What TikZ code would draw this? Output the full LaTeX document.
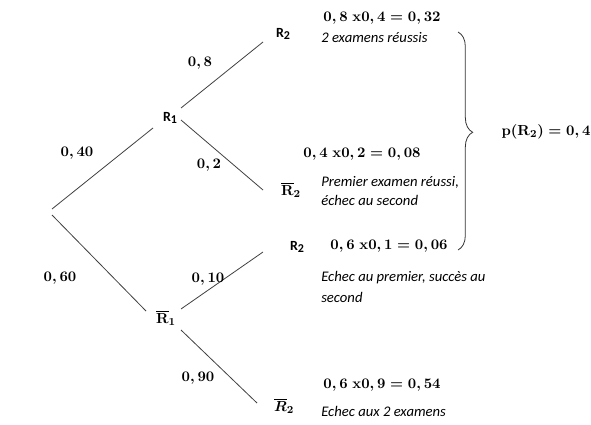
\documentclass[tikz,border=0pt]{standalone}
\usepackage{fontspec}
\usepackage{amsmath}
\newfontfamily\calib{Carlito}
\usetikzlibrary{decorations.pathreplacing}
\newcommand{\sR}[1]{R\raisebox{-0.3ex}{\fontsize{9}{9}\selectfont #1}}
\begin{document}
\begin{tikzpicture}[x=0.75pt,y=-0.75pt,
  edge/.style={draw=black!75, line width=0.6pt},
  sanslab/.style={font=\calib\bfseries\fontsize{10.5}{11}\selectfont, inner sep=0pt},
  mlab/.style={font=\fontsize{11}{13}\selectfont\boldmath, inner sep=0pt},
  itxt/.style={font=\calib\itshape\fontsize{11}{14}\selectfont, inner sep=0pt, anchor=west, align=left},
]
\useasboundingbox (0,0) rectangle (591,424);

% tree nodes
\coordinate (root) at (52,212);
\node[sanslab] (R1)  at (170,118) {\sR{1}};
\node[mlab]    (R1b) at (166,318) {$\overline{\mathbf{R}}_{\mathbf{1}}$};
\node[sanslab] (R2a) at (283,34)  {\sR{2}};
\node[mlab]    (R2b) at (291,190) {$\overline{\mathbf{R}}_{\mathbf{2}}$};
\node[sanslab] (R2c) at (297,247) {\sR{2}};
\node[mlab]    (R2d) at (284,406) {$\overline{R}_{2}$};

% branches
\draw[edge] ([shift={(0,-3)}]root) -- ([shift={(-17,10)}]R1.center);
\draw[edge] ([shift={(0,3)}]root) -- ([shift={(-20,-7)}]R1b.center);
\draw[edge] ([shift={(11,-10)}]R1.center) -- ([shift={(-20,8)}]R2a.center);
\draw[edge] ([shift={(11,2)}]R1.center) -- ([shift={(-28,0)}]R2b.center);
\draw[edge] ([shift={(15,-9)}]R1b.center) -- ([shift={(-34,5)}]R2c.center);
\draw[edge] ([shift={(15,12)}]R1b.center) -- ([shift={(-27,-3)}]R2d.center);

% probabilities
\node[mlab] (p40) at (77,153) {$0,40$};
\node[mlab] (p60) at (60,278) {$0,60$};
\node[mlab] (p8)  at (200,63) {$0,8$};
\node[mlab] (p2)  at (209,165) {$0,2$};
\node[mlab] (p10) at (208,279) {$0,10$};
\node[mlab] (p90) at (198,378) {$0,90$};

% products
\node[mlab] (pr1) at (382,18)  {$0,8\ \mathbf{x}0,4=0,32$};
\node[mlab] (pr2) at (362,154) {$0,4\ \mathbf{x}0,2=0,08$};
\node[mlab] (pr3) at (389,246) {$0,6\ \mathbf{x}0,1=0,06$};
\node[mlab] (pr4) at (382,385) {$0,6\ \mathbf{x}0,9=0,54$};

% comments
\node[itxt] (t1) at (321,38) {2 examens réussis};
\node[itxt, font=\calib\itshape\fontsize{11}{14.25}\selectfont] (t2) at (321,191.5) {Premier examen réussi,\\échec au second};
\node[itxt, font=\calib\itshape\fontsize{11}{15.5}\selectfont] (t3) at (321,287) {Echec au premier, succès au\\second};
\node[itxt] (t4) at (321,411) {Echec aux 2 examens};

% brace and total
\draw[black!80, line width=0.6pt, decorate, decoration={brace, amplitude=11pt, aspect=0.46}] (458,32) -- (458,250);
\node[mlab] (pR2) at (546,132) {$\mathbf{p}(\mathbf{R}_{2})=0,4$};
\end{tikzpicture}
\end{document}
